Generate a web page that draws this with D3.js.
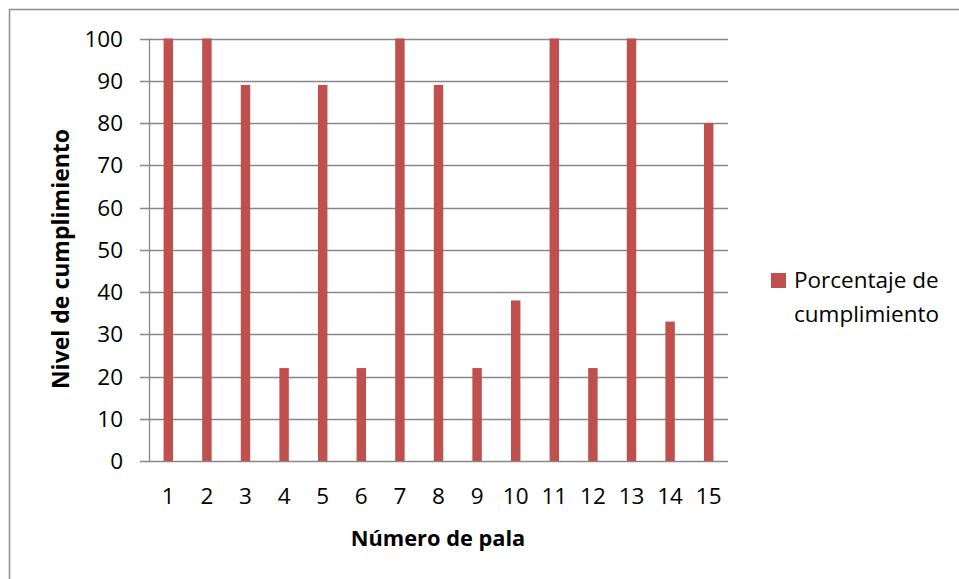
<!DOCTYPE html>
<html>
<head>
<meta charset="utf-8">
<script src="https://cdn.jsdelivr.net/npm/d3@7"></script>
<style>
html,body{margin:0;padding:0;background:#fff;}
svg{display:block;font-family:"Open Sans",sans-serif;}
</style>
</head>
<body>
<svg id="chart" width="959" height="579"></svg>
<script>
const categories = ["1","2","3","4","5","6","7","8","9","10","11","12","13","14","15"];
const values = [100,100,89,22,89,22,100,89,22,38,100,22,100,33,80];
const yTicks = [0,10,20,30,40,50,60,70,80,90,100];
const seriesName = ["Porcentaje de", "cumplimiento"];
const xTitle = "Número de pala";
const yTitle = "Nivel de cumplimiento";

(function () {
const svg = d3.select("#chart");
const color = "#C0504D";
const fs = 22.5;
const pLeft = 149, pRight = 728, pTop = 38.5, pBottom = 461;

// outer border
svg.append("rect").attr("x", 9.5).attr("y", 9.5).attr("width", 1000).attr("height", 1000)
  .attr("fill", "none").attr("stroke", "#8c8c8c").attr("stroke-width", 1.5);

const x = d3.scaleBand().domain(categories).range([pLeft, pRight]).paddingInner(0.755).paddingOuter(0.3775);
const y = d3.scaleLinear().domain([0, 100]).range([pBottom, pTop]);

// gridlines
svg.append("g").selectAll("line").data(yTicks).join("line")
  .attr("x1", pLeft - 9).attr("x2", pRight)
  .attr("y1", d => Math.round(y(d)) + 0.5).attr("y2", d => Math.round(y(d)) + 0.5)
  .attr("stroke", "#888").attr("stroke-width", 1.3);

// y axis line
svg.append("line").attr("x1", pLeft + 0.5).attr("x2", pLeft + 0.5).attr("y1", pTop).attr("y2", pBottom)
  .attr("stroke", "#888").attr("stroke-width", 1.3);

// bars
svg.append("g").selectAll("rect").data(values).join("rect")
  .attr("x", (d, i) => x(categories[i]))
  .attr("width", x.bandwidth())
  .attr("y", d => y(d))
  .attr("height", d => pBottom - y(d))
  .attr("fill", color);

// y tick labels
svg.append("g").selectAll("text").data(yTicks).join("text")
  .attr("x", 123).attr("y", d => y(d) + 8)
  .attr("text-anchor", "end").attr("font-size", fs).attr("fill", "#000")
  .text(d => d);

// x tick labels
svg.append("g").selectAll("text").data(categories).join("text")
  .attr("x", d => x(d) + x.bandwidth() / 2).attr("y", 504)
  .attr("text-anchor", "middle").attr("font-size", fs).attr("fill", "#000")
  .text(d => d);

// axis titles
svg.append("text").attr("x", 438).attr("y", 546).attr("text-anchor", "middle")
  .attr("font-size", 21.8).attr("font-weight", "bold").text(xTitle);
svg.append("text").attr("transform", "translate(69,259) rotate(-90)").attr("text-anchor", "middle")
  .attr("font-size", 23).attr("font-weight", "bold").text(yTitle);

// legend
svg.append("rect").attr("x", 771).attr("y", 273).attr("width", 15).attr("height", 15).attr("fill", color);
svg.append("text").attr("x", 794).attr("y", 288).attr("font-size", fs).text(seriesName[0]);
svg.append("text").attr("x", 794).attr("y", 322).attr("font-size", fs).text(seriesName[1]);
})();
</script>
</body>
</html>
